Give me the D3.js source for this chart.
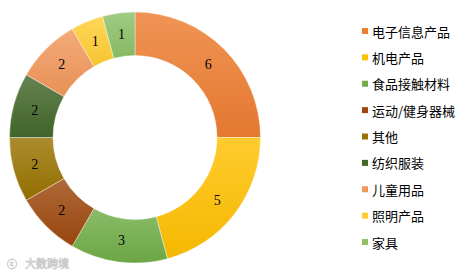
<!DOCTYPE html>
<html><head><meta charset="utf-8">
<script src="https://cdn.jsdelivr.net/npm/d3@7"></script>
<style>html,body{margin:0;padding:0;background:#fff;}svg{display:block;}</style>
</head><body>
<svg id="chart" width="470" height="273"></svg>
<script>
const categories = ["电子信息产品","机电产品","食品接触材料","运动/健身器械","其他","纺织服装","儿童用品","照明产品","家具"];
const values = [6,5,3,2,2,2,2,1,1];
const colors = ["#ED7D31","#FFC000","#70AD47","#9E480E","#997300","#43682B","#F1975A","#FFCD33","#8CC168"];

const svg = d3.select("#chart");
const cx = 135, cy = 137.5, rOuter = 125.5, rInner = 82;

const defs = svg.append("defs");
colors.forEach((c, i) => {
  const g = defs.append("linearGradient").attr("id", "g" + i)
    .attr("x1", 0).attr("y1", 0).attr("x2", 0).attr("y2", 1);
  g.append("stop").attr("offset", "0%").attr("stop-color", d3.interpolateRgb(c, "#fff")(0.18));
  g.append("stop").attr("offset", "100%").attr("stop-color", d3.interpolateRgb(c, "#000")(0.04));
});

const pie = d3.pie().sort(null).value(d => d)(values);
const arc = d3.arc().innerRadius(rInner).outerRadius(rOuter);
const labelArc = d3.arc().innerRadius((rInner + rOuter) / 2).outerRadius((rInner + rOuter) / 2);

const g = svg.append("g").attr("transform", `translate(${cx},${cy})`);
g.selectAll("path").data(pie).join("path")
  .attr("d", arc)
  .attr("fill", (d, i) => `url(#g${i})`)
  .attr("stroke", "#fff").attr("stroke-width", 0.4);

g.selectAll("text").data(pie).join("text")
  .attr("transform", d => `translate(${labelArc.centroid(d)})`)
  .attr("text-anchor", "middle").attr("dominant-baseline", "central")
  .attr("font-family", "'Liberation Serif','Times New Roman',serif")
  .attr("font-size", 14).attr("fill", "#000")
  .text(d => d.data);

// legend
const ly = d3.scalePoint().domain(categories).range([31, 242]);
const leg = svg.append("g");
categories.forEach((c, i) => {
  const y = ly(c);
  leg.append("rect").attr("x", 362).attr("y", y - 3).attr("width", 6).attr("height", 6).attr("fill", colors[i]);
  leg.append("text").attr("x", 372).attr("y", y).attr("dominant-baseline", "central")
    .attr("font-family", "'Noto Sans CJK SC',sans-serif").attr("font-size", 13).attr("fill", "#000")
    .text(c);
});

// watermark
const wm = svg.append("g").attr("opacity", 0.6);
wm.append("text").attr("x", 7).attr("y", 268)
  .attr("font-family", "'Noto Sans CJK SC',sans-serif").attr("font-size", 10)
  .attr("fill", "#fff").attr("stroke", "#aaa").attr("stroke-width", 0.8)
  .text("ⓒ");
wm.append("text").attr("x", 25).attr("y", 268)
  .attr("font-family", "'Noto Sans CJK SC',sans-serif").attr("font-size", 11)
  .attr("fill", "#fff").attr("stroke", "#aaa").attr("stroke-width", 0.8)
  .text("大数跨境");
</script>
</body></html>
